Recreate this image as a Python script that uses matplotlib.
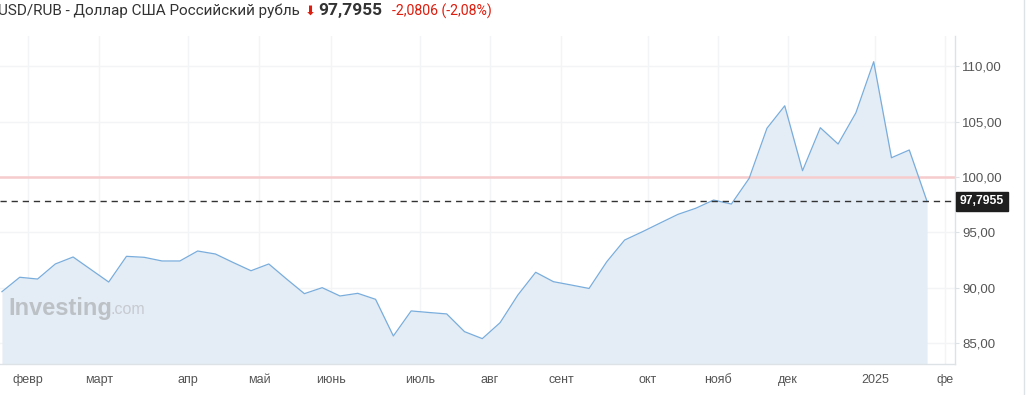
import numpy as np
import matplotlib
matplotlib.use("Agg")
import matplotlib.pyplot as plt
from matplotlib.lines import Line2D
from matplotlib.ticker import FuncFormatter

# --- data: weekly USD/RUB closes, 22.01.2024 .. 20.01.2025 ---
weeks = np.arange(53)
usd_rub = [89.65, 90.95, 90.79, 92.15, 92.78, 91.65, 90.52, 92.84, 92.75, 92.42,
           92.42, 93.32, 93.05, 92.28, 91.54, 92.15, 90.79, 89.47, 90.01, 89.26,
           89.50, 88.96, 85.65, 87.91, 87.77, 87.64, 86.04, 85.41, 86.85, 89.35,
           91.40, 90.55, 90.25, 89.94, 92.36, 94.31, 95.06, 95.85, 96.63, 97.18,
           97.92, 97.56, 99.88, 104.40, 106.43, 100.57, 104.45, 102.98, 105.80, 110.41,
           101.74, 102.44, 97.7955]
last_price = 97.7955
change = -2.0806
change_pct = -2.08

# month starts, in week index units
month_labels = ["февр", "март", "апр", "май", "июнь", "июль", "авг",
                "сент", "окт", "нояб", "дек", "2025", "фе"]
month_pos = [1.46, 5.45, 10.46, 14.45, 18.49, 23.5, 27.43,
             31.42, 36.3, 40.25, 44.18, 49.07, 53.0]
y_ticks = [85, 90, 95, 100, 105, 110]

W, H = 1033, 395
fig = plt.figure(figsize=(W / 100, H / 100), dpi=100)
ax = fig.add_axes([0, (H - 364) / H, 955 / W, (364 - 36) / H])

line_c = "#79addc"
fill_c = "#e4ecf5"
grid_c = "#f2f4f6"
txt_c = "#555555"

ax.fill_between(weeks, usd_rub, 80, color=fill_c, lw=0, zorder=1)
ax.plot(weeks, usd_rub, color=line_c, lw=0.9, zorder=3)

ax.axhline(100, color="#f7cccc", lw=1.8, zorder=2)
ax.axhline(last_price, color="#333333", lw=1, ls=(0, (4.5, 3.5)), zorder=4)

ax.set_xlim(-0.11, 53.57)
ax.set_ylim(83.12, 112.73)

ax.set_xticks(month_pos)
ax.set_xticklabels(month_labels)
ax.set_yticks(y_ticks)
ax.yaxis.set_major_formatter(FuncFormatter(lambda v, p: f"{v:.2f}".replace(".", ",")))
ax.yaxis.tick_right()
ax.grid(True, color=grid_c, lw=1, zorder=0)
ax.set_axisbelow(True)

for s in ["top", "left"]:
    ax.spines[s].set_visible(False)
for s in ["right", "bottom"]:
    ax.spines[s].set_color("#dde2e7")
    ax.spines[s].set_linewidth(1)

ax.tick_params(axis="x", length=0, pad=7, labelsize=9, labelcolor=txt_c)
ax.tick_params(axis="y", length=3, color="#dde2e7", pad=2, labelsize=9.5, labelcolor=txt_c)
for lab in ax.get_xticklabels() + ax.get_yticklabels():
    lab.set_family("Liberation Sans")

# current price tag
ax.annotate(f"{last_price:.4f}".replace(".", ","), xy=(1, last_price),
            xycoords=("axes fraction", "data"), xytext=(3.5, 0), textcoords="offset points",
            va="center", ha="left", color="white", fontsize=8.8, fontweight="bold",
            family="Liberation Sans",
            bbox=dict(boxstyle="square,pad=0.3", fc="#1e1e1e", ec="#1e1e1e"),
            annotation_clip=False, zorder=6)

# watermark
ax.text(8 / 955, 1 - (308 - 36) / 328, "Investing", transform=ax.transAxes,
        fontsize=17, fontweight="bold", color="#bcc1c6", family="Liberation Sans",
        va="center", ha="left", zorder=2)
ax.text(110 / 955, 1 - (310 - 36) / 328, ".com", transform=ax.transAxes,
        fontsize=11.5, color="#c6cbd0", family="Liberation Sans",
        va="center", ha="left", zorder=2)

# header
ty = 1 - 11 / H
fig.text(-2 / W, ty, "USD/RUB - Доллар США Российский рубль", fontsize=11,
         color="#333333", family="Roboto", va="center", ha="left")
fig.text(305 / W, ty, "\u2B07", fontsize=9.5, color="#dd1d0e",
         family=["DejaVu Sans"], va="center", ha="left")
fig.text(318 / W, ty, f"{last_price:.4f}".replace(".", ","), fontsize=12.5,
         fontweight="bold", color="#333333", family="Roboto", va="center", ha="left")
fig.text(392 / W, ty, f"{change:.4f} ({change_pct:.2f}%)".replace(".", ","), fontsize=10.2,
         color="#dd1d0e", family="Roboto", va="center", ha="left")

fig.add_artist(Line2D([1024 / W, 1024 / W], [0, 1], color="#dde2e7", lw=1))

fig.savefig("out.png", dpi=100)
